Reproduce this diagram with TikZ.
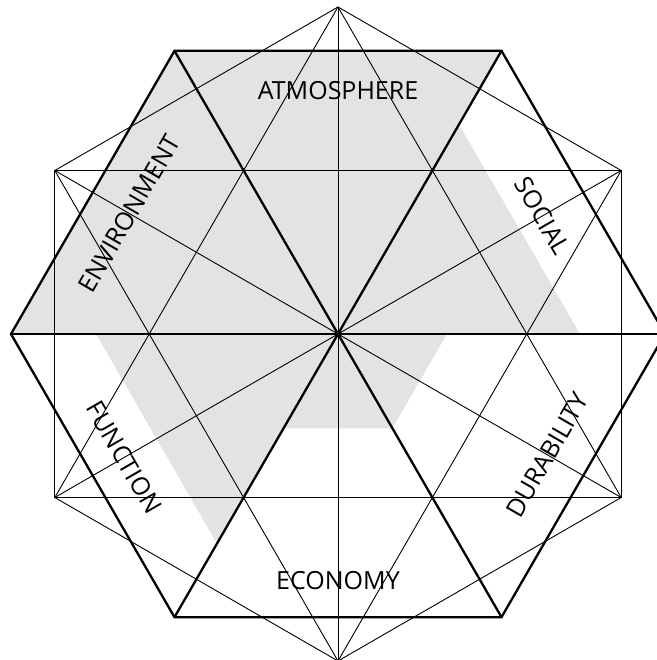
\documentclass[tikz,border=0pt]{standalone}
\usepackage{fontspec}
\setmainfont{Open Sans}
\usepackage{tikz}
\usetikzlibrary{calc}
\definecolor{shade}{HTML}{E1E3E4}

\begin{document}
\begin{tikzpicture}[x=1pt,y=1pt,
  font=\fontsize{25}{30}\selectfont,
  fine/.style={draw=black,line width=0.9pt},
  heavy/.style={draw=black,line width=2.3pt,line join=miter},
  score/.style={fill=shade,draw=none},
  lbl/.style={inner sep=0pt,anchor=center}]
  \def\R{327}
  \useasboundingbox (-338,-326) rectangle (318,334);
  \coordinate (c) at (0,0);
  % outer points: h = heavy hexagon, s = fine hexagon (turned 30 deg)
  \foreach \i in {0,...,5}{
    \coordinate (h\i) at (\i*60:\R);
    \coordinate (s\i) at (30+\i*60:\R);
  }
  % scores per sector
  \path[score] ($(c)!0.74!(h0)$) -- ($(c)!0.74!(h1)$) -- (h1) -- (h2) -- (h3)
    -- ($(c)!0.74!(h3)$) -- ($(c)!0.74!(h4)$) -- ($(c)!0.333!(h4)$)
    -- ($(c)!0.333!(h5)$) -- ($(c)!0.333!(h0)$) -- cycle;
  % every pair of the fine points
  \foreach \i in {0,...,4}{
    \pgfmathtruncatemacro\nxt{\i+1}
    \foreach \j in {\nxt,...,5}
      \draw[fine] (s\i) -- (s\j);
  }
  \draw[heavy] (h0) -- (h1) -- (h2) -- (h3) -- (h4) -- (h5) -- cycle;
  \draw[heavy] (h0) -- (h3);
  \draw[heavy] (h1) -- (h4);
  \draw[heavy] (h2) -- (h5);
  \node[lbl] (atm) at (90:243) {ATMOSPHERE};
  \node[lbl,rotate=-60] (soc) at (30:236) {SOCIAL};
  \node[lbl,rotate=60] (dur) at (-30:242) {DURABILITY};
  \node[lbl] (eco) at (270:247) {ECONOMY};
  \node[lbl,rotate=-60] (fun) at (210:247) {FUNCTION};
  \node[lbl,rotate=60] (env) at (150:241) {ENVIRONMENT};
\end{tikzpicture}
\end{document}
